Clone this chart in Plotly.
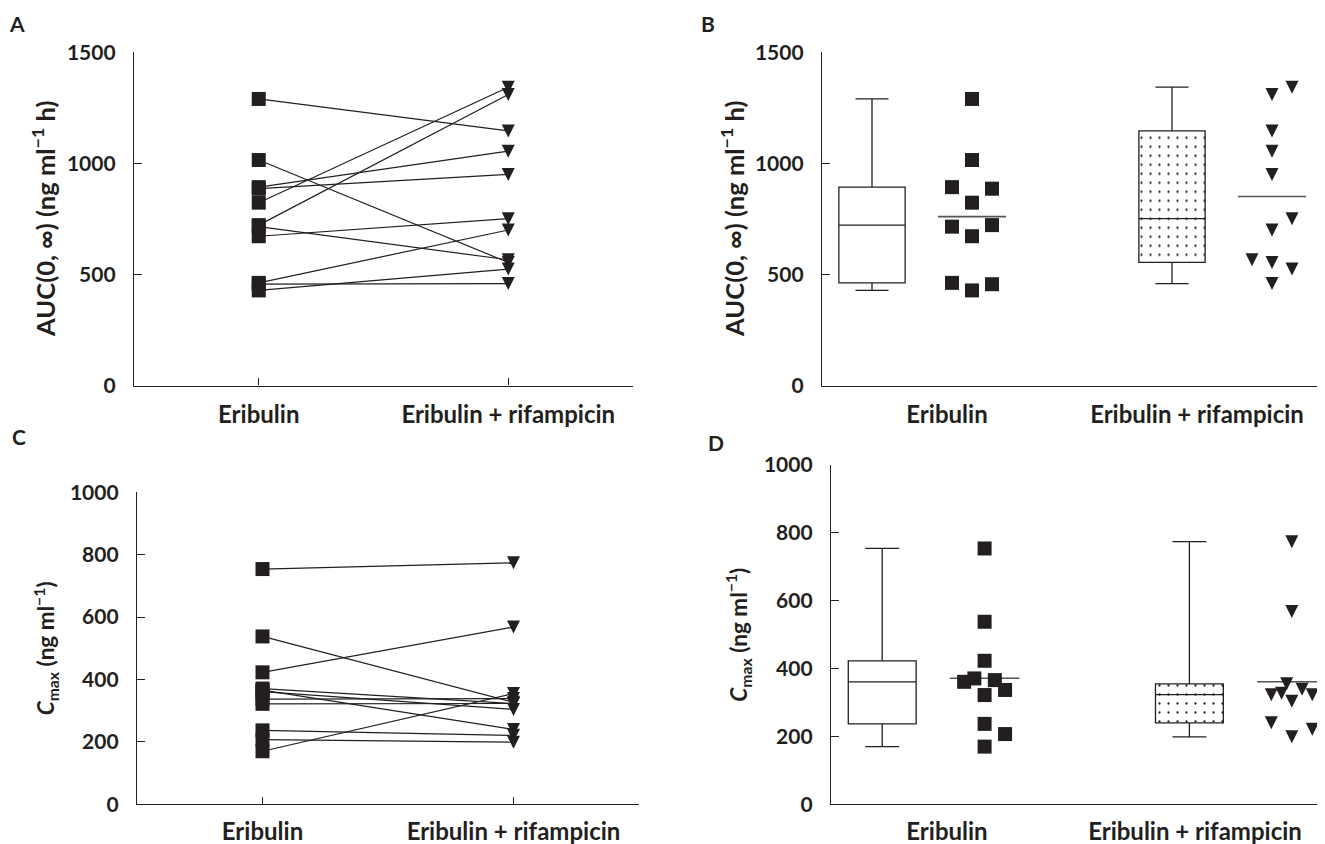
import numpy as np
import plotly.graph_objects as go

# ---------------- data ----------------
GROUPS = ["Eribulin", "Eribulin + rifampicin"]
AUC_ERIBULIN = [1290, 1015, 893, 886, 823, 722, 715, 672, 462, 456, 428]
AUC_RIFAMPICIN = [1146, 554, 1055, 950, 1343, 1310, 566, 751, 700, 459, 524]
CMAX_ERIBULIN = [754, 538, 423, 371, 366, 361, 337, 322, 237, 207, 170]
CMAX_RIFAMPICIN = [774, 327, 568, 323, 240, 304, 339, 323, 221, 199, 355]
AUC_TICKS = [0, 500, 1000, 1500]
CMAX_TICKS = [0, 200, 400, 600, 800, 1000]

# ---------------- style ----------------
W, H = 1325, 844
OFF = 8  # page body margin in the rendered page
INK = "#231f20"
FONT = "Lato, 'Open Sans', sans-serif"
JIT = 0.08
AUC_ERI_SLOTS = [0, 0, -1, 1, 0, 1, -1, 0, -1, 1, 0]
AUC_RIF_SLOTS = [0, 0, 0, 0, 1, 0, -1, 1, 0, 0, 1]
CMAX_ERI_SLOTS = [0, 0, 0, -0.5, 0.5, -1, 1, 0, 0, 1, 0]
CMAX_RIF_SLOTS = [0, -0.5, 0, -1, -1, 0, 0.5, 1, 1, 0, -0.25]
BOX_POS = [-0.3, 0.9]
PTS_POS = [0.1, 1.3]
BOX_W = 0.265
MEAN_HALF = 0.136


def px(x):
    return (x - OFF) / W


def py(y):
    return 1 - (y - OFF) / H


def med(v):
    return float(np.median(v))


def box_stats(v):
    s = sorted(v)
    n = len(s)
    lower = s[: n // 2]
    upper = s[(n + 1) // 2:]
    return dict(q1=med(lower), median=med(s), q3=med(upper), lo=min(s), hi=max(s), mean=float(np.mean(s)))


fig = go.Figure()

SQ = dict(symbol="square", size=14, color=INK, line=dict(width=0))
TRI = dict(symbol="arrow-down", size=13, standoff=6.5, color=INK, line=dict(width=0))


def paired_panel(eri, rif, xa, ya):
    lx, ly = [], []
    for a, b in zip(eri, rif):
        lx += [0, 1, None]
        ly += [a, b, None]
    fig.add_trace(go.Scatter(x=lx, y=ly, mode="lines", line=dict(color=INK, width=1.2),
                             xaxis=xa, yaxis=ya, showlegend=False, hoverinfo="skip"))
    fig.add_trace(go.Scatter(x=[0] * len(eri), y=eri, mode="markers", marker=SQ,
                             xaxis=xa, yaxis=ya, showlegend=False, cliponaxis=False))
    fig.add_trace(go.Scatter(x=[1] * len(rif), y=rif, mode="markers", marker=TRI,
                             xaxis=xa, yaxis=ya, showlegend=False, cliponaxis=False))


def box_panel(eri, rif, eri_slots, rif_slots, xa, ya):
    for gi, (vals, slots, marker) in enumerate([(eri, eri_slots, SQ), (rif, rif_slots, TRI)]):
        st = box_stats(vals)
        bp = BOX_POS[gi]
        pp = PTS_POS[gi]
        if gi == 1:
            fig.add_trace(go.Bar(x=[bp], y=[st["q3"] - st["q1"]], base=[st["q1"]], width=BOX_W,
                                 marker=dict(color="white", line=dict(width=0),
                                             pattern=dict(shape=".", fgcolor=INK, bgcolor="white",
                                                          size=9, solidity=0.05)),
                                 xaxis=xa, yaxis=ya, showlegend=False, hoverinfo="skip"))
        fig.add_trace(go.Box(x=[bp], q1=[st["q1"]], median=[st["median"]], q3=[st["q3"]],
                             lowerfence=[st["lo"]], upperfence=[st["hi"]], width=BOX_W,
                             fillcolor="rgba(0,0,0,0)", line=dict(color=INK, width=1.3),
                             whiskerwidth=0.5, boxpoints=False,
                             xaxis=xa, yaxis=ya, showlegend=False))
        fig.add_trace(go.Scatter(x=[pp - MEAN_HALF, pp + MEAN_HALF], y=[st["mean"], st["mean"]],
                                 mode="lines", line=dict(color="#555555", width=1.6),
                                 xaxis=xa, yaxis=ya, showlegend=False, hoverinfo="skip"))
        fig.add_trace(go.Scatter(x=[pp + s * JIT for s in slots], y=vals, mode="markers",
                                 marker=marker, xaxis=xa, yaxis=ya, showlegend=False,
                                 cliponaxis=False))


paired_panel(AUC_ERIBULIN, AUC_RIFAMPICIN, "x", "y")
box_panel(AUC_ERIBULIN, AUC_RIFAMPICIN, AUC_ERI_SLOTS, AUC_RIF_SLOTS, "x2", "y2")
paired_panel(CMAX_ERIBULIN, CMAX_RIFAMPICIN, "x3", "y3")
box_panel(CMAX_ERIBULIN, CMAX_RIFAMPICIN, CMAX_ERI_SLOTS, CMAX_RIF_SLOTS, "x4", "y4")


def xaxis(domain, rng, tickvals, ticks, anchor, standoff):
    return dict(domain=domain, range=rng, anchor=anchor, showline=True, linecolor=INK,
                linewidth=1.3, showgrid=False, zeroline=False, ticks=ticks, ticklen=7,
                tickwidth=1.2, tickcolor=INK, tickvals=tickvals, ticktext=GROUPS,
                tickfont=dict(family=FONT, size=24, color=INK, weight="bold"),
                ticklabelstandoff=standoff, fixedrange=True, automargin=False)


def yaxis(domain, rng, tickvals, anchor):
    return dict(domain=domain, range=rng, anchor=anchor, showline=True, linecolor=INK,
                linewidth=1.3, showgrid=False, zeroline=False, ticks="inside", ticklen=8,
                tickwidth=1.2, tickcolor=INK, tickvals=tickvals,
                tickfont=dict(family=FONT, size=21, color=INK, weight="bold"),
                ticklabelstandoff=13, fixedrange=True, automargin=False)


top_dom = [py(385.5), py(52.3)]
c_dom = [py(804.3), py(492.3)]
d_dom = [py(804.3), py(465.0)]

fig.update_layout(
    template="none",
    width=W, height=H, margin=dict(l=0, r=0, t=0, b=0, pad=0, autoexpand=False),
    paper_bgcolor="white", plot_bgcolor="white", showlegend=False,
    barmode="overlay",
    xaxis=xaxis([px(134), px(633)], [-0.5, 1.5], [0, 1], "inside", "y", 8),
    yaxis=yaxis(top_dom, [0, 1500], AUC_TICKS, "x"),
    xaxis2=xaxis([px(822), px(1325)], [-0.5, -0.5 + 503 / 250], [0, 1], "", "y2", 8),
    yaxis2=yaxis(top_dom, [0, 1500], AUC_TICKS, "x2"),
    xaxis3=xaxis([px(137), px(639)], [-0.5, 1.5], [0, 1], "inside", "y3", 6),
    yaxis3=yaxis(c_dom, [0, 1000], CMAX_TICKS, "x3"),
    xaxis4=xaxis([px(831), px(1325)], [-0.5, -0.5 + 494 / 256], [-0.047, 0.922], "", "y4", 6),
    yaxis4=yaxis(d_dom, [0, 1000], CMAX_TICKS, "x4"),
)

auc_title = "AUC(0, ∞) (ng ml<sup>−1</sup> h)"
cmax_title = "<i>C</i><sub>max</sub> (ng ml<sup>−1</sup>)"
for xp, dom, txt, fs in [(43, top_dom, auc_title, 25.5), (732, top_dom, auc_title, 25.5),
                         (45, c_dom, cmax_title, 22.5), (738, d_dom, cmax_title, 22.5)]:
    fig.add_annotation(x=px(xp), y=(dom[0] + dom[1]) / 2, xref="paper", yref="paper",
                       text=txt, textangle=-90, showarrow=False,
                       font=dict(family=FONT, size=fs, color=INK, weight="bold"),
                       xanchor="center", yanchor="middle")

for letter, xp, yp in [("A", 17, 23), ("B", 708, 23), ("C", 19, 437), ("D", 716, 443)]:
    fig.add_annotation(x=px(xp), y=py(yp), xref="paper", yref="paper", text=letter,
                       showarrow=False, font=dict(family=FONT, size=21, color=INK, weight="bold"),
                       xanchor="center", yanchor="middle")

fig.write_html("out.html")
